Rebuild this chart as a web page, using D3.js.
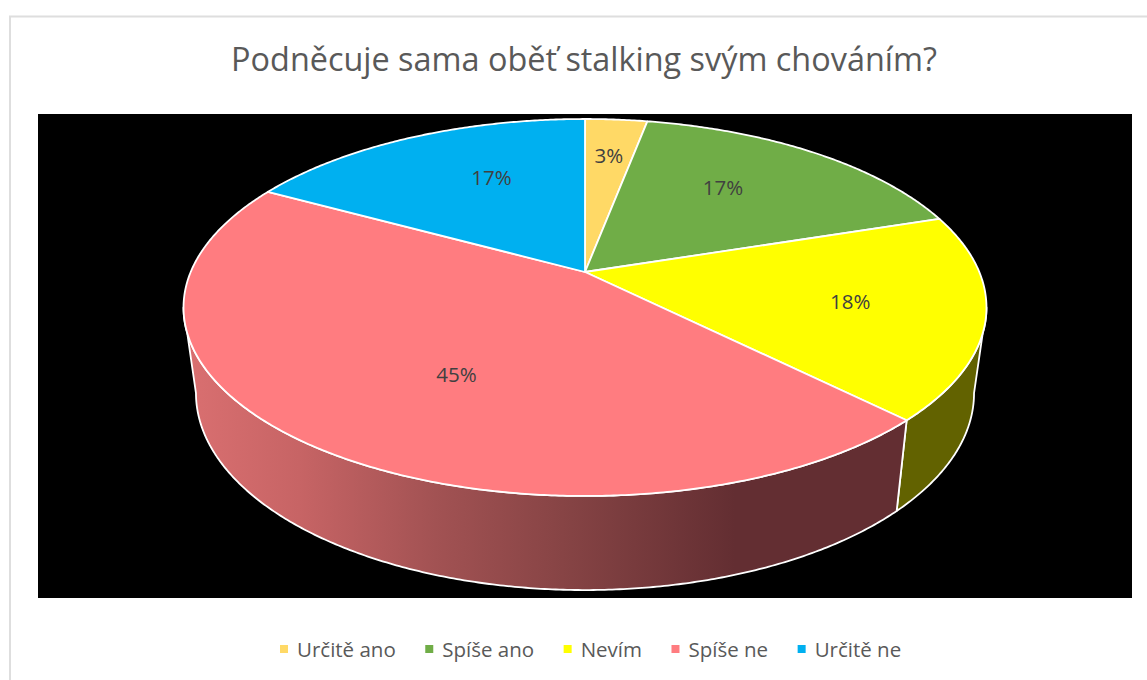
<!DOCTYPE html>
<html lang="cs">
<head>
<meta charset="utf-8">
<script src="https://cdn.jsdelivr.net/npm/d3@7"></script>
<style>
html,body{margin:0;padding:0;background:#fff}
svg{display:block}
text{font-family:"Open Sans",sans-serif}
</style>
</head>
<body>
<div id="chart"></div>
<script>
const chartTitle = "Podněcuje sama oběť stalking svým chováním?";
const categories = ["Určitě ano", "Spíše ano", "Nevím", "Spíše ne", "Určitě ne"];
const shares = [3.0, 17.0, 17.5, 45.48, 17.02];
const sliceColors = ["#ffd966", "#70ad47", "#ffff00", "#ff7c80", "#00b0f0"];

const W = 1147, H = 680;
const svg = d3.select("#chart").append("svg").attr("width", W).attr("height", H);

// Frame
svg.append("path").attr("d", `M10,${H}V16.5H${W}`).attr("fill", "none")
  .attr("stroke", "#dedede").attr("stroke-width", 2);

// Plot background
svg.append("rect").attr("x", 38).attr("y", 114).attr("width", 1094).attr("height", 484).attr("fill", "#000");

svg.append("text").attr("x", 584).attr("y", 71).attr("text-anchor", "middle")
  .attr("font-size", 32.4).attr("fill", "#595959").text(chartTitle);

// Tilted-disc projection: the unit disc is mapped in perspective, so the apex
// sits above the centre of the rim ellipse, as in the reference.
const persp = 0.1883;
const cx = 585, topApexY = 272, rimX = 394.3, rimY = 181.8;
const wallScaleX = 0.969, wallScaleY = 1.045, wallApexY = 356;
const topPoint = (t, r = 1) => {
  const u = Math.sin(t) * r, v = -Math.cos(t) * r, w = 1 - persp * v;
  return [cx + rimX * u / w, topApexY + rimY * v / w];
};
const basePoint = t => {
  const [x, y] = topPoint(t);
  return [cx + (x - cx) * wallScaleX, wallApexY + (y - topApexY) * wallScaleY];
};
const arcSamples = (a, b) => {
  const n = Math.max(2, Math.ceil(Math.abs(b - a) / 0.008));
  return d3.range(n + 1).map(i => a + (b - a) * i / n);
};
const line = d3.line();

const arcs = d3.pie().sort(null).value(d => d)(shares);

// Side wall (only the part of the rim that faces the viewer)
const frontFrom = Math.PI / 2 + Math.asin(persp);
const frontTo = 3 * Math.PI / 2 - Math.asin(persp);

const defs = svg.append("defs");
const grad = defs.append("linearGradient").attr("id", "wallGrad")
  .attr("gradientUnits", "userSpaceOnUse").attr("x1", 190).attr("x2", 735).attr("y1", 0).attr("y2", 0);
[[0, "#d96f70"], [0.2, "#c76465"], [0.45, "#a25253"], [0.7, "#854344"], [1, "#632e32"]]
  .forEach(([o, c]) => grad.append("stop").attr("offset", o).attr("stop-color", c));

const wallFill = ["#665700", "#2d451c", "#626200", "url(#wallGrad)", "#00465f"];
svg.append("g").selectAll("path")
  .data(arcs.filter(d => d.endAngle > frontFrom && d.startAngle < frontTo))
  .join("path")
  .attr("d", d => {
    const ts = arcSamples(Math.max(d.startAngle, frontFrom), Math.min(d.endAngle, frontTo));
    return line(ts.map(t => topPoint(t)).concat(ts.slice().reverse().map(basePoint))) + "Z";
  })
  .attr("fill", d => wallFill[d.index])
  .attr("stroke", "#fff").attr("stroke-width", 1.8).attr("stroke-linejoin", "round");

// Top face
svg.append("g").selectAll("path").data(arcs).join("path")
  .attr("d", d => line([[cx, topApexY]].concat(arcSamples(d.startAngle, d.endAngle).map(t => topPoint(t)))) + "Z")
  .attr("fill", d => sliceColors[d.index])
  .attr("stroke", "#fff").attr("stroke-width", 1.8).attr("stroke-linejoin", "round");

// Data labels (radius and angular shift of the best-fit placement)
const labelRadius = [0.73, 0.637, 0.672, 0.59, 0.631];
const labelShiftDeg = [0, -4.4, 0.5, -6.9, 6];
svg.append("g").selectAll("text").data(arcs).join("text")
  .attr("transform", d => {
    const mid = (d.startAngle + d.endAngle) / 2 + labelShiftDeg[d.index] * Math.PI / 180;
    const [x, y] = topPoint(mid, labelRadius[d.index]);
    return `translate(${x},${y - 1})`;
  })
  .attr("text-anchor", "middle").attr("dominant-baseline", "central")
  .attr("font-size", 20.5).attr("fill", "#404040")
  .text(d => d3.format(".0f")(d.value) + "%");

// Legend
let lx = 280;
const legend = svg.append("g");
categories.forEach((c, i) => {
  legend.append("rect").attr("x", lx).attr("y", 645).attr("width", 8).attr("height", 8).attr("fill", sliceColors[i]);
  const t = legend.append("text").attr("x", lx + 17).attr("y", 648.5)
    .attr("dominant-baseline", "central").attr("font-size", 20.5).attr("fill", "#595959").text(c);
  lx += 17 + t.node().getComputedTextLength() + 29.5;
});
</script>
</body>
</html>
